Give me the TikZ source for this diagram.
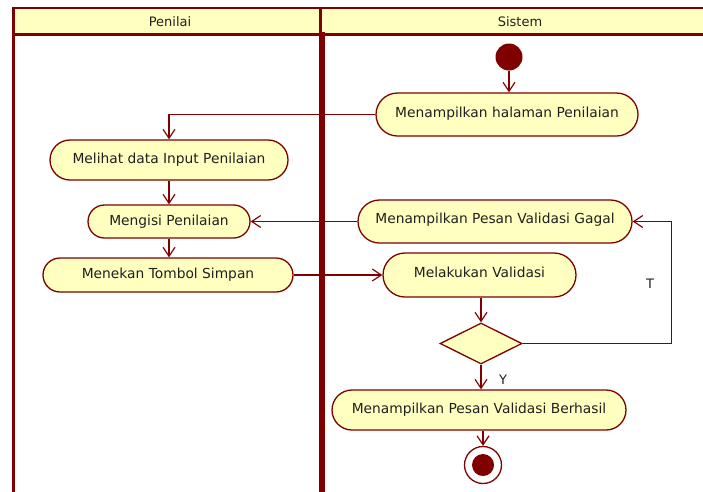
\documentclass[tikz,border=0pt]{standalone}
\usepackage{fontspec}
\setmainfont{DejaVu Sans}
\usetikzlibrary{shapes.geometric,arrows.meta,calc}
\definecolor{dred}{HTML}{800000}
\definecolor{lyel}{HTML}{FFFFC0}
\definecolor{txt}{HTML}{202020}
\tikzset{
  act/.style={draw=dred, line width=1.3pt, fill=lyel, rectangle, inner sep=0pt, text=txt, font=\fontsize{13.8}{16}\selectfont},
  flow/.style={draw=dred, line width=1.2pt, -{Straight Barb[length=9pt,width=12pt,line width=1.2pt]}},
  lane/.style={draw=dred, line cap=rect},
  lbl/.style={text=txt, font=\fontsize{13}{15}\selectfont, inner sep=0pt}
}
\begin{document}
\begin{tikzpicture}[x=1pt,y=-1pt]
\useasboundingbox (0,0) rectangle (703,491);
% lanes
\fill[lyel] (13,8) rectangle (710,34.5);
\draw[lane, line width=2.5pt] (13,8) -- (710,8);
\draw[lane, line width=2.5pt] (13,34.5) -- (710,34.5);
\draw[lane, line width=3pt] (13,8) -- (13,500);
\draw[lane, line width=3pt] (320,8) -- (320,34.5);
\draw[lane, line width=5.5pt] (322,34.5) -- (322,500);
\node[lbl] (h1) at (170,21.5) {Penilai};
\node[lbl] (h2) at (520,21.5) {Sistem};
% nodes
\node[circle, fill=dred, minimum size=27pt, inner sep=0pt] (start) at (509,57) {};
\node[act, minimum width=262pt, minimum height=43pt, rounded corners=21.5pt] (halaman) at (507,114.5) {\raisebox{5pt}{Menampilkan halaman Penilaian}};
\node[act, minimum width=238pt, minimum height=40pt, rounded corners=20pt] (melihat) at (169,160) {Melihat data Input Penilaian};
\node[act, minimum width=162pt, minimum height=33pt, rounded corners=16.5pt] (mengisi) at (169,221.5) {Mengisi Penilaian};
\node[act, minimum width=250pt, minimum height=34pt, rounded corners=17pt] (menekan) at (168,275) {Menekan Tombol Simpan};
\node[act, minimum width=274pt, minimum height=43pt, rounded corners=21.5pt] (gagal) at (495,221.5) {\raisebox{6pt}{Menampilkan Pesan Validasi Gagal}};
\node[act, minimum width=193pt, minimum height=44pt, rounded corners=22pt] (valid) at (479.5,275) {\raisebox{6pt}{Melakukan Validasi}};
\node[act, diamond, rounded corners=0pt, minimum width=82pt, minimum height=41pt] (dia) at (481,343.5) {};
\node[act, minimum width=294pt, minimum height=40pt, rounded corners=20pt] (berhasil) at (479,410) {Menampilkan Pesan Validasi Berhasil};
\node[circle, draw=dred, line width=1.3pt, fill=white, minimum size=37pt, inner sep=0pt] (end) at (483,465) {};
\node[circle, fill=dred, minimum size=22pt, inner sep=0pt] (endin) at (end.center) {};
% flows
\draw[flow] (start) -- (start |- halaman.north);
\draw[flow] (halaman.west) -| (melihat.north);
\draw[flow] (melihat) -- (mengisi);
\draw[flow] (mengisi) -- (mengisi |- menekan.north);
\draw[flow] (menekan.east) -- (valid.west);
\draw[flow] (valid.south -| dia.north) -- (dia.north);
\coordinate (tcorner) at ($(dia.east)+(149,0)$);
\draw[flow] (dia.east) -- (tcorner) |- (gagal.east);
\draw[flow] (gagal.west) -- (mengisi.east);
\draw[flow] (dia.south) -- (dia.south |- berhasil.north);
\draw[flow] (berhasil.south -| end.north) -- (end.north);
\node[lbl] (tl) at (650,284) {T};
\node[lbl] (yl) at (503,380) {Y};
\end{tikzpicture}
\end{document}
